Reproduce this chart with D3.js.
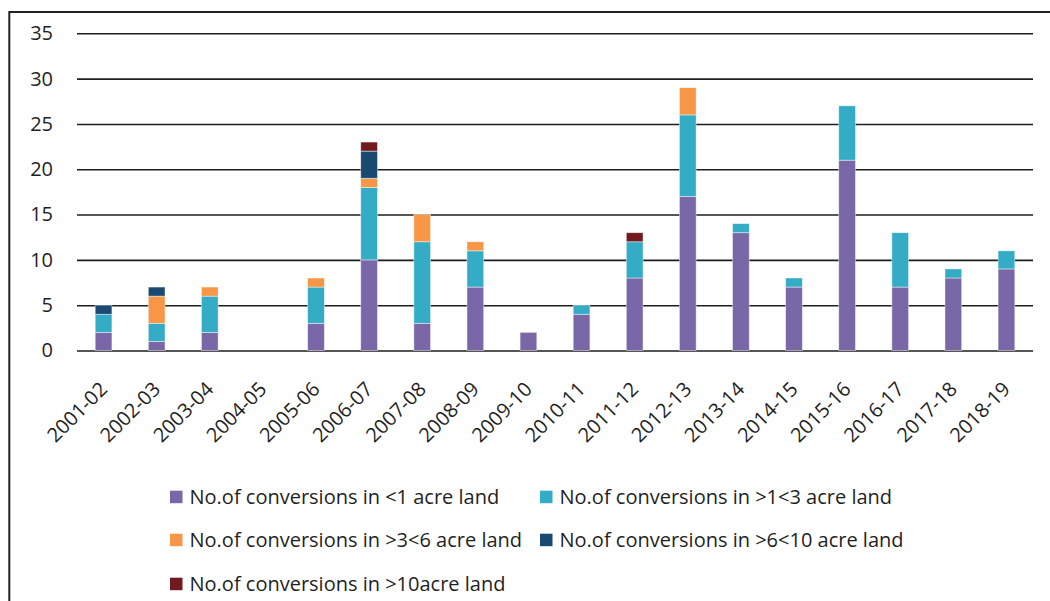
<!DOCTYPE html>
<html>
<head>
<meta charset="utf-8">
<script src="https://cdn.jsdelivr.net/npm/d3@7"></script>
<style>
  html, body { margin: 0; padding: 0; background: #fff; }
  svg { display: block; font-family: "Open Sans", sans-serif; }
</style>
</head>
<body>
<svg id="chart" width="1050" height="601"></svg>
<script>
// Financial years on the category axis
const years = ["2001-02","2002-03","2003-04","2004-05","2005-06","2006-07","2007-08","2008-09","2009-10",
               "2010-11","2011-12","2012-13","2013-14","2014-15","2015-16","2016-17","2017-18","2018-19"];

// Number of conversions per land-size class
const lt1    = [2, 1, 2, 0, 3, 10, 3, 7, 2, 4, 8, 17, 13, 7, 21, 7, 8, 9];
const gt1lt3 = [2, 2, 4, 0, 4,  8, 9, 4, 0, 1, 4,  9,  1, 1,  6, 6, 1, 2];
const gt3lt6 = [0, 3, 1, 0, 1,  1, 3, 1, 0, 0, 0,  3,  0, 0,  0, 0, 0, 0];
const gt6lt10= [1, 1, 0, 0, 0,  3, 0, 0, 0, 0, 0,  0,  0, 0,  0, 0, 0, 0];
const gt10   = [0, 0, 0, 0, 0,  1, 0, 0, 0, 0, 1,  0,  0, 0,  0, 0, 0, 0];

const seriesNames = [
  "No.of conversions in <1 acre land",
  "No.of conversions in >1<3 acre land",
  "No.of conversions in >3<6 acre land",
  "No.of conversions in >6<10 acre land",
  "No.of conversions in >10acre land"
];
const seriesValues = [lt1, gt1lt3, gt3lt6, gt6lt10, gt10];
const seriesColors = ["#7A67A8", "#34ACC5", "#F79646", "#1A4A72", "#711A1F"];

const yTicks = [0, 5, 10, 15, 20, 25, 30, 35];

const svg = d3.select("#chart");
const textColor = "#1f1f1f";
const fontSize = 20;

// outer frame (top and left edges)
svg.append("path")
  .attr("d", "M9.3,601 L9.3,12 L1050,12")
  .attr("fill", "none")
  .attr("stroke", "#222")
  .attr("stroke-width", 2);

const plot = { left: 77, right: 1033, top: 33.3, bottom: 350.5 };

const x = d3.scaleBand()
  .domain(years)
  .range([plot.left, plot.right])
  .paddingInner(0.685)
  .paddingOuter(0.3425);

const y = d3.scaleLinear()
  .domain([0, 35])
  .range([plot.bottom, plot.top]);

// horizontal gridlines
const yAxis = d3.axisLeft(y)
  .tickValues(yTicks)
  .tickSize(-(plot.right - plot.left))
  .tickPadding(24);

const gy = svg.append("g")
  .attr("transform", `translate(${plot.left},0)`)
  .call(yAxis);
gy.select(".domain").remove();
gy.selectAll(".tick line")
  .attr("stroke", "#1e1e1e")
  .attr("stroke-width", 1.6);
gy.selectAll(".tick text")
  .attr("fill", textColor)
  .attr("font-size", fontSize)
  .attr("font-family", "'Open Sans', sans-serif");

// stacked bars
const table = years.map((yr, i) => {
  const row = { year: yr };
  seriesNames.forEach((n, k) => { row[n] = seriesValues[k][i]; });
  return row;
});
const stacked = d3.stack().keys(seriesNames)(table);

const layers = svg.append("g").selectAll("g")
  .data(stacked)
  .join("g")
  .attr("fill", (d, i) => seriesColors[i]);

layers.selectAll("rect")
  .data(d => d.filter(s => s[1] - s[0] > 0))
  .join("rect")
  .attr("x", d => x(d.data.year))
  .attr("width", x.bandwidth())
  .attr("y", d => y(d[1]))
  .attr("height", d => y(d[0]) - y(d[1]))
  .attr("stroke", "rgba(255,255,255,0.55)")
  .attr("stroke-width", 0.8);

// category labels, rotated
const xAxis = d3.axisBottom(x).tickSize(0).tickPadding(0);
const gx = svg.append("g")
  .attr("transform", `translate(0,${plot.bottom})`)
  .call(xAxis);
gx.select(".domain").remove();
gx.selectAll(".tick text")
  .attr("fill", textColor)
  .attr("font-size", fontSize)
  .attr("font-family", "'Open Sans', sans-serif")
  .attr("text-anchor", "end")
  .attr("dy", 0)
  .attr("y", 0)
  .attr("transform", "translate(5,40) rotate(-45)");

// legend
const legendItems = [
  { col: 0, row: 0 }, { col: 1, row: 0 },
  { col: 0, row: 1 }, { col: 1, row: 1 },
  { col: 0, row: 2 }
];
const colX = [170, 540];
const rowY = [497, 540, 584];

const lg = svg.append("g").selectAll("g")
  .data(seriesNames)
  .join("g")
  .attr("transform", (d, i) => `translate(${colX[legendItems[i].col]},${rowY[legendItems[i].row]})`);

lg.append("rect")
  .attr("x", 0).attr("y", -6.3)
  .attr("width", 12.5).attr("height", 12.5)
  .attr("fill", (d, i) => seriesColors[i]);

lg.append("text")
  .attr("x", 19.5)
  .attr("y", 0)
  .attr("dy", "0.35em")
  .attr("fill", textColor)
  .attr("font-size", fontSize)
  .text(d => d);
</script>
</body>
</html>
